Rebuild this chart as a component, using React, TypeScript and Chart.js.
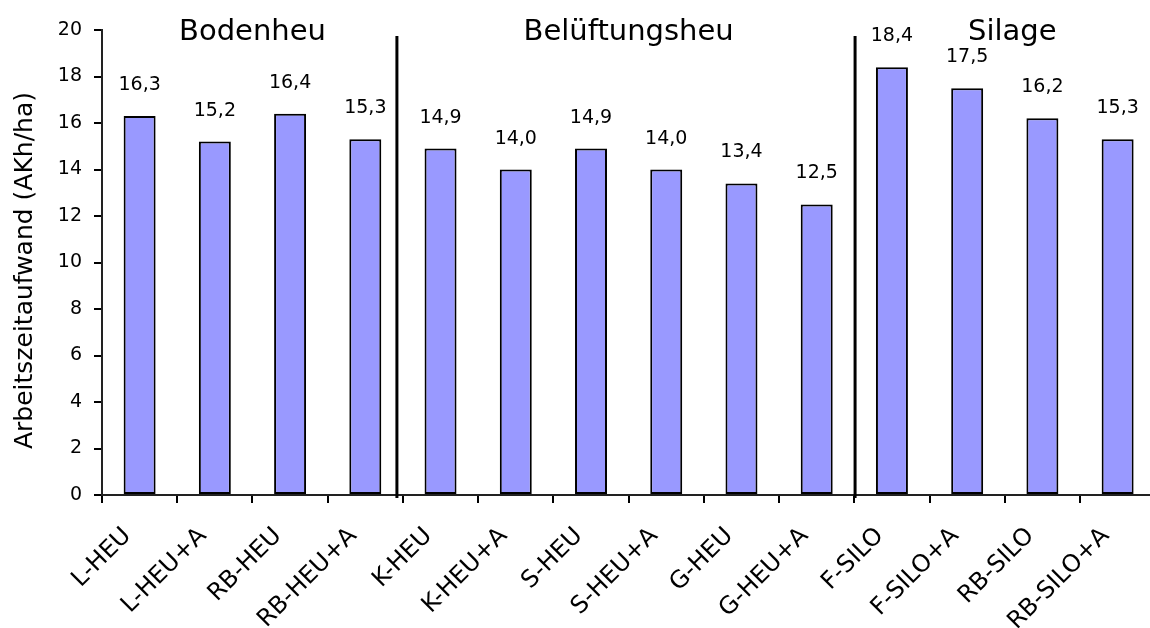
import { useEffect, useRef } from "react";
import { Chart, registerables } from "chart.js";

Chart.register(...registerables);

const categories = [
  "L-HEU", "L-HEU+A", "RB-HEU", "RB-HEU+A",
  "K-HEU", "K-HEU+A", "S-HEU", "S-HEU+A", "G-HEU", "G-HEU+A",
  "F-SILO", "F-SILO+A", "RB-SILO", "RB-SILO+A",
];
const values = [16.3, 15.2, 16.4, 15.3, 14.9, 14.0, 14.9, 14.0, 13.4, 12.5, 18.4, 17.5, 16.2, 15.3];
const groupNames = ["Bodenheu", "Belüftungsheu", "Silage"];
const groupCenters = [1.5, 6.5, 11.6];
const separatorsAt = [3.42, 9.51];
const yMin = 0;
const yMax = 20;
const yStep = 2;
const yTitle = "Arbeitszeitaufwand (AKh/ha)";

const FONT = "'DejaVu Sans', sans-serif";

const fmt = (v: number) => v.toFixed(1).replace(".", ",");

const overlayPlugin = {
  id: "overlay",
  afterDatasetsDraw(chart: any) {
    const ctx = chart.ctx as CanvasRenderingContext2D;
    const xs = chart.scales.x;
    const area = chart.chartArea;
    ctx.save();
    // data labels
    const meta = chart.getDatasetMeta(0);
    ctx.fillStyle = "#000";
    ctx.font = `19px ${FONT}`;
    ctx.textAlign = "center";
    ctx.textBaseline = "alphabetic";
    meta.data.forEach((bar: any, i: number) => {
      ctx.fillText(fmt(values[i]), bar.x, bar.y - 26);
    });
    // separators
    ctx.strokeStyle = "#000";
    ctx.lineWidth = 3;
    separatorsAt.forEach((s) => {
      const x = xs.getPixelForValue(s);
      ctx.beginPath();
      ctx.moveTo(x, area.top + 6);
      ctx.lineTo(x, area.bottom + 3);
      ctx.stroke();
    });
    // group titles
    ctx.font = `29px ${FONT}`;
    ctx.textAlign = "center";
    ctx.textBaseline = "alphabetic";
    groupNames.forEach((g, i) => {
      ctx.fillText(g, xs.getPixelForValue(groupCenters[i]), 40);
    });
    // y title
    ctx.font = `25px ${FONT}`;
    ctx.translate(25, (area.top + area.bottom) / 2 + 8);
    ctx.rotate(-Math.PI / 2);
    ctx.textBaseline = "middle";
    ctx.fillText(yTitle, 0, 0);
    ctx.restore();
  },
};

export default function App() {
  const ref = useRef<HTMLCanvasElement | null>(null);
  useEffect(() => {
    if (!ref.current) return;
    const chart = new Chart(ref.current, {
      type: "bar",
      data: {
        labels: categories,
        datasets: [
          {
            data: values,
            backgroundColor: "#9999FF",
            borderColor: "#000",
            borderWidth: 2,
            borderSkipped: false,
            barPercentage: 0.425,
            categoryPercentage: 1,
          },
        ],
      },
      options: {
        responsive: true,
        maintainAspectRatio: false,
        animation: false,
        layout: { padding: { top: 30, left: 0, right: 0, bottom: 0 } },
        plugins: {
          legend: { display: false },
          tooltip: { enabled: false },
          title: { display: false },
        },
        scales: {
          x: {
            grid: {
              offset: true,
              drawOnChartArea: false,
              drawTicks: true,
              tickLength: 8,
              color: "#000",
              lineWidth: 2,
            },
            border: { color: "#222", width: 2 },
            ticks: {
              autoSkip: false,
              maxRotation: 45,
              minRotation: 45,
              padding: 19,
              labelOffset: -12,
              color: "#000",
              font: { family: FONT, size: 24 },
            },
            afterFit: (scale: any) => {
              scale.height = 133;
            },
          },
          y: {
            min: yMin,
            max: yMax,
            grid: {
              drawOnChartArea: false,
              drawTicks: true,
              tickLength: 8,
              color: "#000",
              lineWidth: 2,
            },
            border: { color: "#222", width: 2 },
            ticks: {
              stepSize: yStep,
              padding: 12,
              color: "#000",
              font: { family: FONT, size: 19 },
            },
            afterFit: (scale: any) => {
              scale.width = 102;
            },
          },
        },
      },
      plugins: [overlayPlugin],
    });
    return () => chart.destroy();
  }, []);

  return (
    <div
      style={{
        position: "fixed",
        left: 0,
        top: 0,
        width: 1150,
        height: 628,
        overflow: "hidden",
        background: "#fff",
      }}
    >
      <div style={{ position: "relative", width: 1157, height: 628 }}>
        <canvas ref={ref} />
      </div>
    </div>
  );
}
